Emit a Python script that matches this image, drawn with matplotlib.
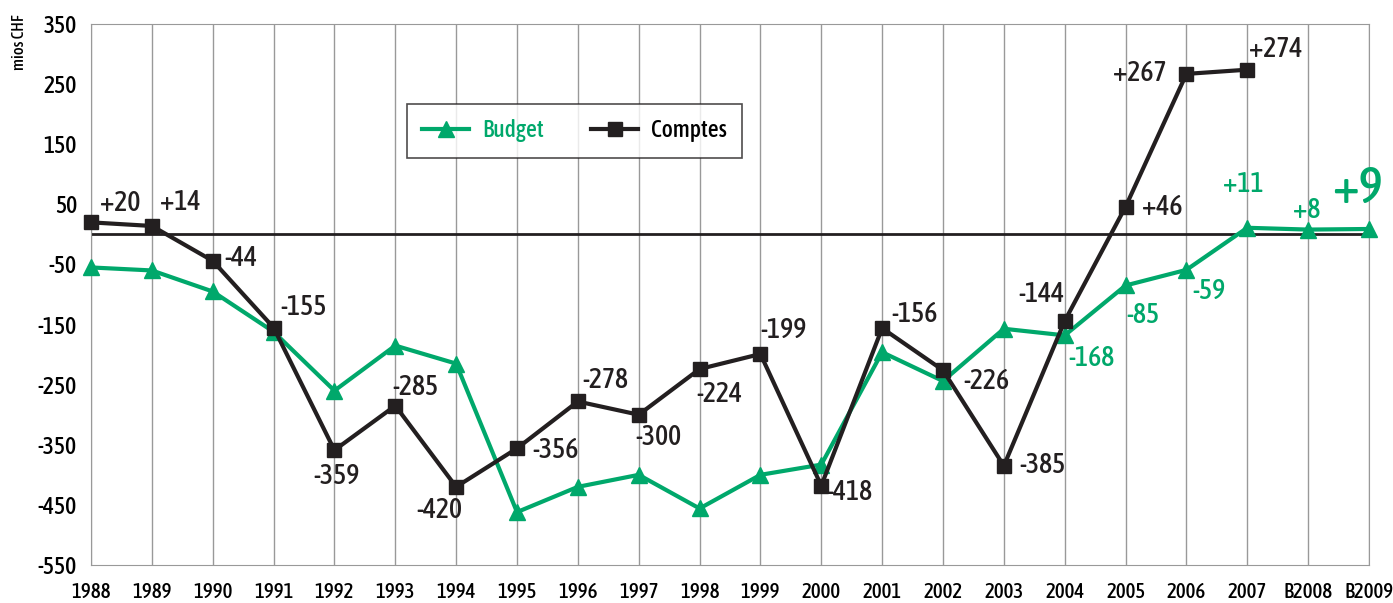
import matplotlib.pyplot as plt
import matplotlib.font_manager as fm

years = ['1988', '1989', '1990', '1991', '1992', '1993', '1994', '1995', '1996', '1997',
         '1998', '1999', '2000', '2001', '2002', '2003', '2004', '2005', '2006', '2007',
         'B2008', 'B2009']
budget = [-55, -60, -95, -162, -260, -185, -215, -462, -420, -400,
          -456, -400, -383, -196, -244, -157, -168, -85, -59, 11, 8, 9]
comptes = [20, 14, -44, -155, -359, -285, -420, -356, -278, -300,
           -224, -199, -418, -156, -226, -385, -144, 46, 267, 274]

# label offsets in pixels (dx, dy)
comptes_off = [(29, 19), (28, 23), (28, 2), (30, 20), (2, -26), (20, 18), (-17, -24),
               (39, -2), (28, 21), (20, -23), (20, -25), (23, 24), (28, -7), (32, 14),
               (43, -11), (39, 0), (-23, 26), (37, -1), (-47, 0), (28, 20)]
budget_labels = {16: (27, -23), 17: (17, -30), 18: (23, -22), 19: (-4, 43), 20: (-1, 19)}

green = '#00a86b'
black = '#231f20'

# look for a condensed face with a bold weight, the original uses a narrow font
fams = {}
for f in fm.fontManager.ttflist:
    if 'Condensed' in f.name or 'Narrow' in f.name:
        w = f.weight if isinstance(f.weight, int) else {'bold': 700, 'normal': 400}.get(f.weight, 400)
        fams.setdefault(f.name, set()).add(w)
fam = 'DejaVu Sans'
if fams:
    ranked = sorted(fams, key=lambda n: (max(fams[n]) < 600, 'Light' in n or 'Thin' in n, n))
    fam = ranked[0]
found = fam != 'DejaVu Sans'
plt.rcParams['font.family'] = [fam, 'DejaVu Sans']
plt.rcParams['axes.unicode_minus'] = False
k = 1.0 if found else 0.75
wt = 'medium'

fig = plt.figure(figsize=(13.93, 6.03), dpi=100)
ax = fig.add_axes([91 / 1393, 1 - 565 / 603, (1369 - 91) / 1393, (565 - 24) / 603])

x = list(range(len(years)))
ax.axhline(0, color=black, lw=2, zorder=2)
ax.plot(x, budget, color=green, lw=3, marker='^', ms=12, label='Budget', clip_on=False, zorder=3)
ax.plot(x[:len(comptes)], comptes, color=black, lw=3, marker='s', ms=10, label='Comptes',
        clip_on=False, zorder=4)

for i, v in enumerate(comptes):
    txt = ('+%d' % v) if v > 0 else str(v)
    ax.annotate(txt, (i, v), xytext=comptes_off[i], textcoords='offset pixels',
                ha='center', va='center', fontsize=20 * k, color=black, fontweight=wt)
for i, off in budget_labels.items():
    v = budget[i]
    txt = ('+%d' % v) if v > 0 else str(v)
    ax.annotate(txt, (i, v), xytext=off, textcoords='offset pixels',
                ha='center', va='center', fontsize=20 * k, color=green, fontweight=wt)
ax.annotate('+9', (21, budget[21]), xytext=(-12, 39), textcoords='offset pixels',
            ha='center', va='center', fontsize=37 * k, fontweight=wt, color=green)

ax.set_xlim(0, len(years) - 1)
ax.set_ylim(-550, 350)
ax.set_yticks(range(-550, 351, 100))
ax.set_xticks(x)
ax.set_xticklabels(years, fontsize=15 * k, fontweight=wt)
ax.tick_params(axis='y', labelsize=17 * k, length=0, pad=10)
ax.tick_params(axis='x', length=0, pad=12)
for lbl in ax.get_yticklabels():
    lbl.set_fontweight(wt)
ax.grid(axis='x', color='#999999', lw=1)
for s in ax.spines.values():
    s.set_color('#999999')
ax.set_axisbelow(True)

fig.text(19 / 1393, 1 - 42 / 603, 'mios CHF', rotation=90, fontsize=12, ha='center', va='center',
         fontweight=wt)

leg = ax.legend(loc='upper left', bbox_to_anchor=(0.247, 0.852), borderaxespad=0, ncol=2,
                prop={'size': 17 * k, 'weight': wt}, frameon=True, fancybox=False,
                handlelength=2.0, columnspacing=2.0, borderpad=0.65, handletextpad=0.55)
leg.get_frame().set_edgecolor(black)
leg.get_frame().set_linewidth(1.2)
leg.get_texts()[0].set_color(green)

fig.savefig('out.png', dpi=100)
